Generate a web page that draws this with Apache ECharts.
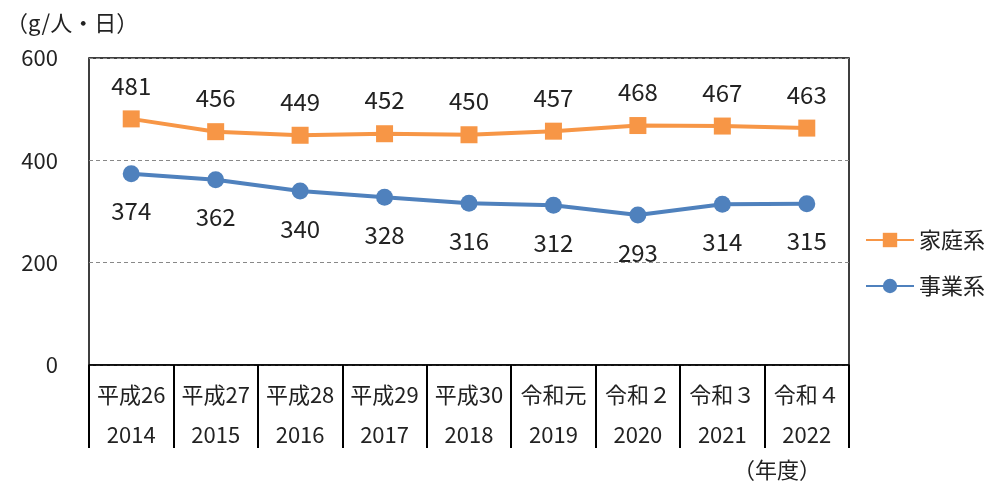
<!DOCTYPE html>
<html>
<head>
<meta charset="utf-8">
<script src="https://cdn.jsdelivr.net/npm/echarts@6/dist/echarts.min.js"></script>
<style>
  html, body { margin: 0; padding: 0; background: #fff; }
  #chart { width: 986px; height: 487px; }
</style>
</head>
<body>
<div id="chart"></div>
<script>
var warekiLabels = ['平成26', '平成27', '平成28', '平成29', '平成30', '令和元', '令和２', '令和３', '令和４'];
var yearLabels = ['2014', '2015', '2016', '2017', '2018', '2019', '2020', '2021', '2022'];
var householdValues = [481, 456, 449, 452, 450, 457, 468, 467, 463];
var businessValues = [374, 362, 340, 328, 316, 312, 293, 314, 315];

var fontName = '"Liberation Sans Narrow", "Noto Sans CJK JP", sans-serif';
var textColor = '#222';
var orange = '#F79646';
var blue = '#4F81BD';

var myChart = echarts.init(document.getElementById('chart'));

var option = {
  animation: false,
  textStyle: { fontFamily: fontName },
  grid: {
    left: 89, right: 137, top: 58, bottom: 122,
    show: true,
    borderColor: '#000',
    borderWidth: 1.5
  },
  legend: {
    orient: 'vertical',
    left: 860,
    top: 224,
    itemGap: 24,
    itemWidth: 48,
    itemHeight: 18,
    textStyle: { fontSize: 22, color: textColor, fontFamily: fontName },
    data: ['家庭系', '事業系']
  },
  xAxis: {
    type: 'category',
    data: warekiLabels,
    boundaryGap: true,
    axisLine: { lineStyle: { color: '#000', width: 1.5 } },
    axisTick: { show: true, interval: 0, length: 83, lineStyle: { color: '#000', width: 2 } },
    axisLabel: {
      interval: 0,
      margin: 10,
      fontSize: 22,
      lineHeight: 40,
      color: textColor,
      formatter: function(v, i) {
        return v + '\n' + yearLabels[i];
      }
    }
  },
  yAxis: {
    type: 'value',
    min: 0,
    max: 600,
    interval: 200,
    axisLine: { show: false },
    axisTick: { show: false },
    axisLabel: { margin: 31, fontSize: 22, color: textColor },
    splitLine: { lineStyle: { color: '#888', type: [4, 3], width: 1 } }
  },
  graphic: [
    {
      type: 'text', left: 6, top: 12,
      style: { text: '（g/人・日）', fontSize: 22, fill: textColor, fontFamily: fontName }
    },
    {
      type: 'text', left: 733, top: 459,
      style: { text: '（年度）', fontSize: 22, fill: textColor, fontFamily: fontName }
    }
  ],
  series: [
    {
      name: '家庭系',
      type: 'line',
      data: householdValues,
      symbol: 'rect',
      symbolSize: 17,
      itemStyle: { color: orange },
      lineStyle: { color: orange, width: 4 },
      label: { show: true, position: 'top', distance: 13, fontSize: 24, color: textColor }
    },
    {
      name: '事業系',
      type: 'line',
      data: businessValues,
      symbol: 'circle',
      symbolSize: 17,
      itemStyle: { color: blue },
      lineStyle: { color: blue, width: 4 },
      label: { show: true, position: 'bottom', distance: 17, fontSize: 24, color: textColor }
    }
  ]
};

myChart.setOption(option);
</script>
</body>
</html>
